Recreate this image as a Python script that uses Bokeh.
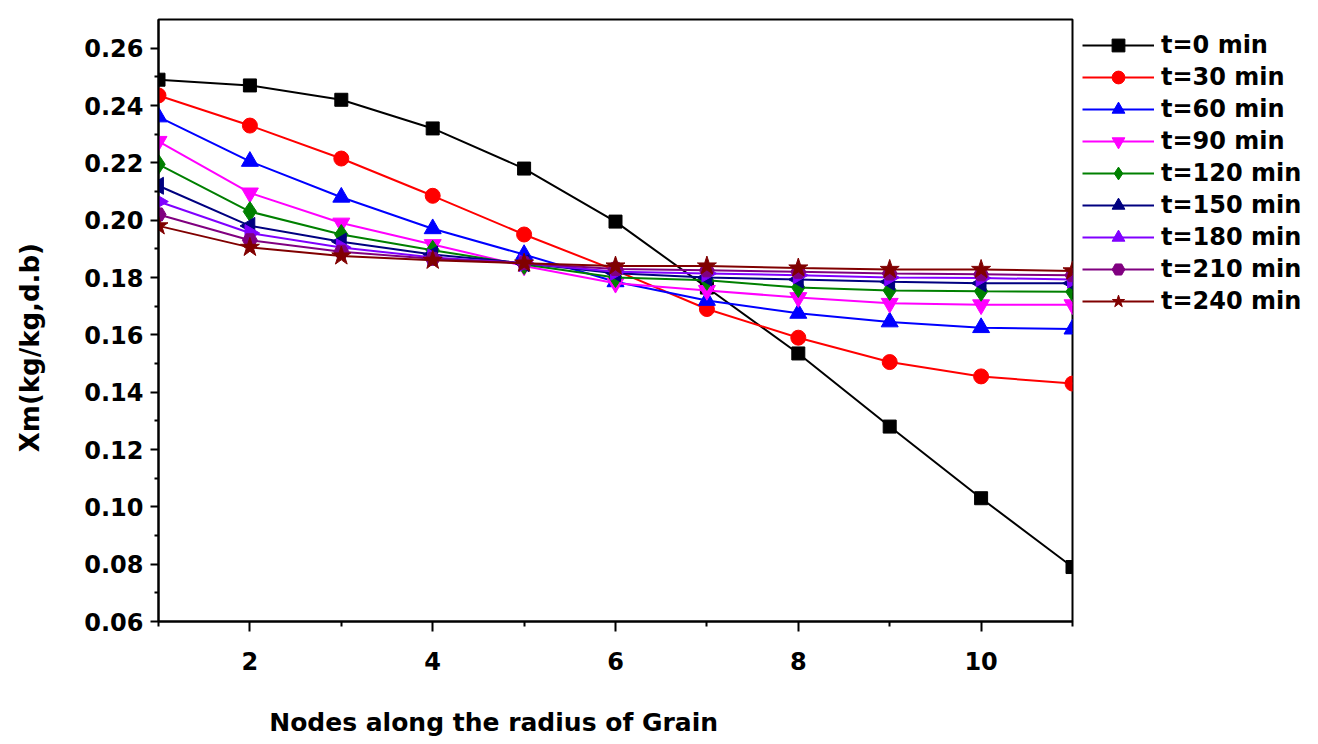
import math

from bokeh.plotting import figure
from bokeh.models import Legend, LegendItem, FixedTicker, PrintfTickFormatter, Range1d
from bokeh.embed import file_html
from bokeh.resources import INLINE

# Moisture content profile along the grain radius at successive drying times
nodes = [1, 2, 3, 4, 5, 6, 7, 8, 9, 10, 11]

xm_t0 = [0.249, 0.247, 0.242, 0.232, 0.218, 0.1995, 0.1765, 0.1535, 0.128, 0.103, 0.079]
xm_t30 = [0.2435, 0.233, 0.2215, 0.2085, 0.195, 0.1825, 0.169, 0.159, 0.1505, 0.1455, 0.143]
xm_t60 = [0.236, 0.2205, 0.208, 0.197, 0.188, 0.1785, 0.172, 0.1675, 0.1645, 0.1625, 0.162]
xm_t90 = [0.2275, 0.2095, 0.199, 0.1915, 0.184, 0.178, 0.1755, 0.173, 0.171, 0.1705, 0.1705]
xm_t120 = [0.2195, 0.203, 0.195, 0.1895, 0.1845, 0.180, 0.179, 0.1765, 0.1755, 0.1752, 0.175]
xm_t150 = [0.212, 0.198, 0.1925, 0.188, 0.185, 0.1815, 0.180, 0.1793, 0.1785, 0.178, 0.178]
xm_t180 = [0.2065, 0.1955, 0.1905, 0.187, 0.185, 0.182, 0.1814, 0.1808, 0.180, 0.1798, 0.1793]
xm_t210 = [0.202, 0.193, 0.189, 0.1865, 0.185, 0.183, 0.1825, 0.182, 0.1814, 0.1811, 0.1808]
xm_t240 = [0.198, 0.1905, 0.1875, 0.186, 0.185, 0.184, 0.184, 0.1833, 0.1828, 0.1828, 0.1823]

series_labels = ["t=0 min", "t=30 min", "t=60 min", "t=90 min", "t=120 min",
                 "t=150 min", "t=180 min", "t=210 min", "t=240 min"]

x_ticks = [2, 4, 6, 8, 10]
x_minor_ticks = [1, 3, 5, 7, 9, 11]
y_ticks = [0.06, 0.08, 0.10, 0.12, 0.14, 0.16, 0.18, 0.20, 0.22, 0.24, 0.26]
y_minor_ticks = [0.07, 0.09, 0.11, 0.13, 0.15, 0.17, 0.19, 0.21, 0.23, 0.25]

x_title = "Nodes along the radius of Grain"
y_title = "Xm(kg/kg,d.b)"

all_series = [xm_t0, xm_t30, xm_t60, xm_t90, xm_t120, xm_t150, xm_t180, xm_t210, xm_t240]
colors = ["#000000", "#FF0000", "#0000FF", "#FF00FF", "#008000",
          "#000080", "#8000FF", "#800080", "#800000"]
# (marker, rotation in radians, size)
marker_styles = [
    ("square", 0.0, 13),
    ("circle", 0.0, 15),
    ("triangle", 0.0, 17),
    ("inverted_triangle", 0.0, 17),
    ("diamond", 0.0, 20),
    ("triangle", math.pi / 2, 17),
    ("triangle", -math.pi / 2, 17),
    ("hex", 0.0, 15),
    ("star", 0.0, 20),
]

FONT = "DejaVu Sans"
NBSP = "\u00a0"

p = figure(
    frame_width=914, height=744,
    x_range=Range1d(1, 11), y_range=Range1d(0.06, 0.27),
    output_backend="svg", toolbar_location=None,
    min_border_left=158, min_border_right=246,
    min_border_top=19, min_border_bottom=123,
    background_fill_color="white", border_fill_color="white",
)
p.grid.visible = False
p.outline_line_color = "black"
p.outline_line_width = 2

# x axis; trailing no-break spaces pull the centred title towards the left
xa = p.xaxis[0]
xa.ticker = FixedTicker(ticks=x_ticks, minor_ticks=x_minor_ticks)
xa.formatter = PrintfTickFormatter(format="%d")
xa.axis_line_width = 2
xa.major_tick_line_width = 2
xa.minor_tick_line_width = 2
xa.major_tick_out = 10
xa.major_tick_in = 0
xa.minor_tick_out = 5
xa.minor_tick_in = 0
xa.major_label_standoff = 20
xa.major_label_text_font = FONT
xa.major_label_text_font_style = "bold"
xa.major_label_text_font_size = "24px"
xa.major_label_text_color = "black"
xa.axis_label = x_title + NBSP * 28
xa.axis_label_text_font = FONT
xa.axis_label_text_font_style = "bold"
xa.axis_label_text_font_size = "25px"
xa.axis_label_text_color = "black"
xa.axis_label_standoff = 35

# y axis
ya = p.yaxis[0]
ya.ticker = FixedTicker(ticks=y_ticks, minor_ticks=y_minor_ticks)
ya.formatter = PrintfTickFormatter(format="%.2f")
ya.axis_line_width = 2
ya.major_tick_line_width = 2
ya.minor_tick_line_width = 2
ya.major_tick_out = 8
ya.major_tick_in = 0
ya.minor_tick_out = 4
ya.minor_tick_in = 0
ya.major_label_standoff = 7
ya.major_label_text_font = FONT
ya.major_label_text_font_style = "bold"
ya.major_label_text_font_size = "24px"
ya.major_label_text_color = "black"
ya.axis_label = y_title + NBSP * 6
ya.axis_label_text_font = FONT
ya.axis_label_text_font_style = "bold"
ya.axis_label_text_font_size = "26px"
ya.axis_label_text_color = "black"
ya.axis_label_standoff = 36

items = []
for label, ys, color, (marker, angle, size) in zip(series_labels, all_series, colors, marker_styles):
    ln = p.line(nodes, ys, line_color=color, line_width=2)
    sc = p.scatter(nodes, ys, marker=marker, angle=angle, angle_units="rad", size=size,
                   fill_color=color, line_color=color, line_width=1)
    items.append(LegendItem(label=label, renderers=[ln, sc]))

legend = Legend(
    items=items, location="top_left",
    margin=10, padding=0, spacing=0,
    glyph_width=72, glyph_height=32, label_height=32,
    label_standoff=7,
    label_text_font=FONT, label_text_font_style="bold",
    label_text_font_size="24px", label_text_color="black",
    border_line_color=None, background_fill_alpha=0,
)
p.add_layout(legend, "right")

open("out.html", "w").write(file_html(p, INLINE))
